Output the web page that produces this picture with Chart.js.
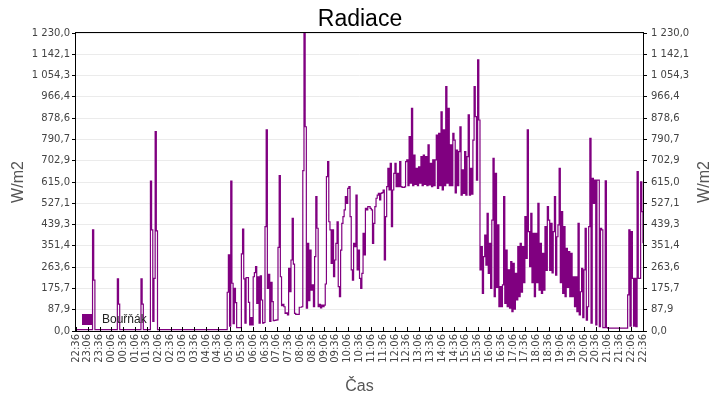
<!DOCTYPE html>
<html>
<head>
<meta charset="utf-8">
<script src="https://cdn.jsdelivr.net/npm/chart.js@4.4.1/dist/chart.umd.min.js"></script>
<style>
html,body{margin:0;padding:0;background:#fff;}
#wrap{width:720px;height:400px;}
</style>
</head>
<body>
<div id="wrap"><canvas id="c" width="720" height="400"></canvas></div>
<script>
// ---- DATA ----
const seriesLabel = 'Bouřňák';
const stepMinutes = 3; // one value every 3 minutes, starting 22:36
// each row = one hour (20 values), first row starts 22:36
const radiation = [
  6,6,6,6,6,6,6,6,6,6,6,6,6,6,417,210,6,6,6,6,
  6,6,6,6,6,6,6,6,6,6,6,6,6,6,6,215,111,6,6,6,
  6,6,6,6,6,6,6,6,6,6,6,6,6,6,6,215,111,6,6,6,
  6,6,6,619,417,40,217,823,413,6,6,6,6,6,6,6,6,6,6,6,
  6,6,6,6,6,6,6,6,6,6,6,6,6,6,6,6,6,6,6,6,
  6,6,6,6,6,6,6,6,6,6,6,6,6,6,6,6,6,6,6,6,
  6,6,6,6,6,6,6,6,160,314,20,619,197,30,176,117,14,14,14,14,
  318,421,215,32,220,220,118,25,55,25,224,241,266,114,224,32,228,128,32,35,
  431,830,176,234,40,201,121,43,44,45,46,345,641,224,105,110,100,73,75,66,
  259,162,293,465,276,73,69,69,69,98,98,100,662,1230,843,94,362,125,334,169,
  190,100,307,555,424,100,110,95,107,100,107,194,637,699,451,417,279,417,224,293,
  362,451,183,142,334,444,472,500,555,527,589,596,472,252,210,362,348,561,252,334,
  217,176,238,403,314,506,500,513,513,506,500,362,444,513,548,561,568,541,568,571,
  582,293,472,596,671,582,692,431,582,651,692,596,651,596,699,596,593,593,595,699,
  706,600,802,610,919,600,726,605,671,600,678,610,720,600,726,605,720,600,768,603,
  692,596,706,600,706,809,589,816,600,905,582,830,600,1009,610,919,600,768,600,816,
  788,570,747,600,740,843,561,665,568,740,561,720,892,561,671,565,788,1009,885,623,
  1119,871,252,348,155,307,396,272,486,238,362,176,458,713,142,651,180,438,100,183,
  100,190,555,114,334,100,252,94,286,80,279,90,238,128,348,142,362,160,348,200,
  472,300,830,410,266,486,200,403,142,403,200,527,169,362,155,320,169,431,250,513,
  458,250,444,240,410,555,231,389,438,671,200,493,155,431,142,341,180,328,142,320,
  142,224,100,224,80,444,66,162,259,55,252,424,45,100,431,795,32,630,527,623,
  25,623,623,18,424,417,14,14,620,14,12,12,12,12,12,12,12,12,12,12,
  12,12,12,12,12,12,12,149,417,20,410,217,20,217,18,658,217,217,616,493,
  362
];
const timeLabels = ['22:36','23:06','23:36','00:06','00:36','01:06','01:36','02:06','02:36','03:06','03:36','04:06','04:36','05:06','05:36','06:06','06:36','07:06','07:36','08:06','08:36','09:06','09:36','10:06','10:36','11:06','11:36','12:06','12:36','13:06','13:36','14:06','14:36','15:06','15:36','16:06','16:36','17:06','17:36','18:06','18:36','19:06','19:36','20:06','20:36','21:06','21:36','22:06','22:36'];
const labelStepMinutes = 30;
const yTickLabels = ['0,0','87,9','175,7','263,6','351,4','439,3','527,1','615,0','702,9','790,7','878,6','966,4','1 054,3','1 142,1','1 230,0'];
const yMax = 1230;
const titleText = 'Radiace';
const xTitle = 'Čas';
const yTitle = 'W/m2';

// ---- CHART ----
const purple = '#800080';
const tickFont = {family: '"DejaVu Sans", sans-serif', size: 10};
const yTickValues = yTickLabels.map((_, i) => i * yMax / (yTickLabels.length - 1));

const points = radiation.map((v, i) => ({x: i * stepMinutes, y: v}));

const decor = {
  id: 'decor',
  afterDraw(chart) {
    const ctx = chart.ctx;
    const a = chart.chartArea;
    ctx.save();
    ctx.strokeStyle = '#000';
    ctx.lineWidth = 1;
    ctx.strokeRect(a.left - 0.5, a.top - 0.5, a.right - a.left + 1, a.bottom - a.top + 1);
    const xs = chart.scales.x;
    ctx.beginPath();
    timeLabels.forEach((_, i) => {
      const px = Math.round(xs.getPixelForValue(i * labelStepMinutes)) + 0.5;
      ctx.moveTo(px, a.bottom);
      ctx.lineTo(px, a.bottom - 4);
    });
    ctx.stroke();
    ctx.fillStyle = '#000';
    ctx.font = '23px "Liberation Sans", Arial, sans-serif';
    ctx.textAlign = 'center';
    ctx.textBaseline = 'alphabetic';
    ctx.fillText(titleText, 360, 26);
    ctx.fillStyle = '#555';
    ctx.font = '16px "Liberation Sans", Arial, sans-serif';
    ctx.fillText(xTitle, (a.left + a.right) / 2, 391);
    const cy = (a.top + a.bottom) / 2;
    [19, 705].forEach(x => {
      ctx.save();
      ctx.translate(x, cy);
      ctx.rotate(-Math.PI / 2);
      ctx.textAlign = 'center';
      ctx.textBaseline = 'middle';
      ctx.fillText(yTitle, 0, 0);
      ctx.restore();
    });
    const ds = chart.data.datasets[0];
    ctx.fillStyle = ds.borderColor;
    ctx.fillRect(82, 314, 11, 11);
    ctx.fillStyle = '#222';
    ctx.font = '12px "Liberation Sans", Arial, sans-serif';
    ctx.textAlign = 'left';
    ctx.textBaseline = 'middle';
    ctx.fillText(ds.label, 102, 320);
    ctx.restore();
  }
};

const yCommon = {
  type: 'linear',
  min: 0,
  max: yMax,
  afterBuildTicks: s => { s.ticks = yTickValues.map(v => ({value: v})); },
  border: {display: false},
  ticks: {
    font: tickFont,
    color: '#444',
    callback: (v, i) => yTickLabels[i]
  }
};

new Chart(document.getElementById('c'), {
  type: 'line',
  data: {
    datasets: [{
      label: seriesLabel,
      data: points,
      borderColor: purple,
      backgroundColor: purple,
      borderWidth: 1.2,
      pointRadius: 0,
      stepped: true,
      fill: false,
      tension: 0
    }]
  },
  options: {
    responsive: false,
    animation: false,
    devicePixelRatio: 1,
    layout: {padding: {top: 33, left: 0, right: 0, bottom: 0}},
    plugins: {legend: {display: false}, title: {display: false}, tooltip: {enabled: false}},
    scales: {
      x: {
        type: 'linear',
        min: 0,
        max: (timeLabels.length - 1) * labelStepMinutes,
        afterBuildTicks: s => { s.ticks = timeLabels.map((_, i) => ({value: i * labelStepMinutes})); },
        afterFit: s => { s.height = 69; },
        border: {display: false},
        grid: {display: false, drawTicks: false},
        ticks: {
          autoSkip: false,
          maxRotation: 90,
          minRotation: 90,
          padding: 3,
          font: tickFont,
          color: '#444',
          callback: (v, i) => timeLabels[i]
        }
      },
      y: Object.assign({}, yCommon, {
        position: 'left',
        afterFit: s => { s.width = 76; },
        grid: {color: '#ebebeb', tickColor: '#000', tickLength: 4, drawTicks: true},
        ticks: Object.assign({}, yCommon.ticks, {padding: 2})
      }),
      y2: Object.assign({}, yCommon, {
        position: 'right',
        afterFit: s => { s.width = 77; },
        grid: {drawOnChartArea: false, tickColor: '#000', tickLength: 4, drawTicks: true},
        ticks: Object.assign({}, yCommon.ticks, {padding: 4})
      })
    }
  },
  plugins: [decor]
});
</script>
</body>
</html>
